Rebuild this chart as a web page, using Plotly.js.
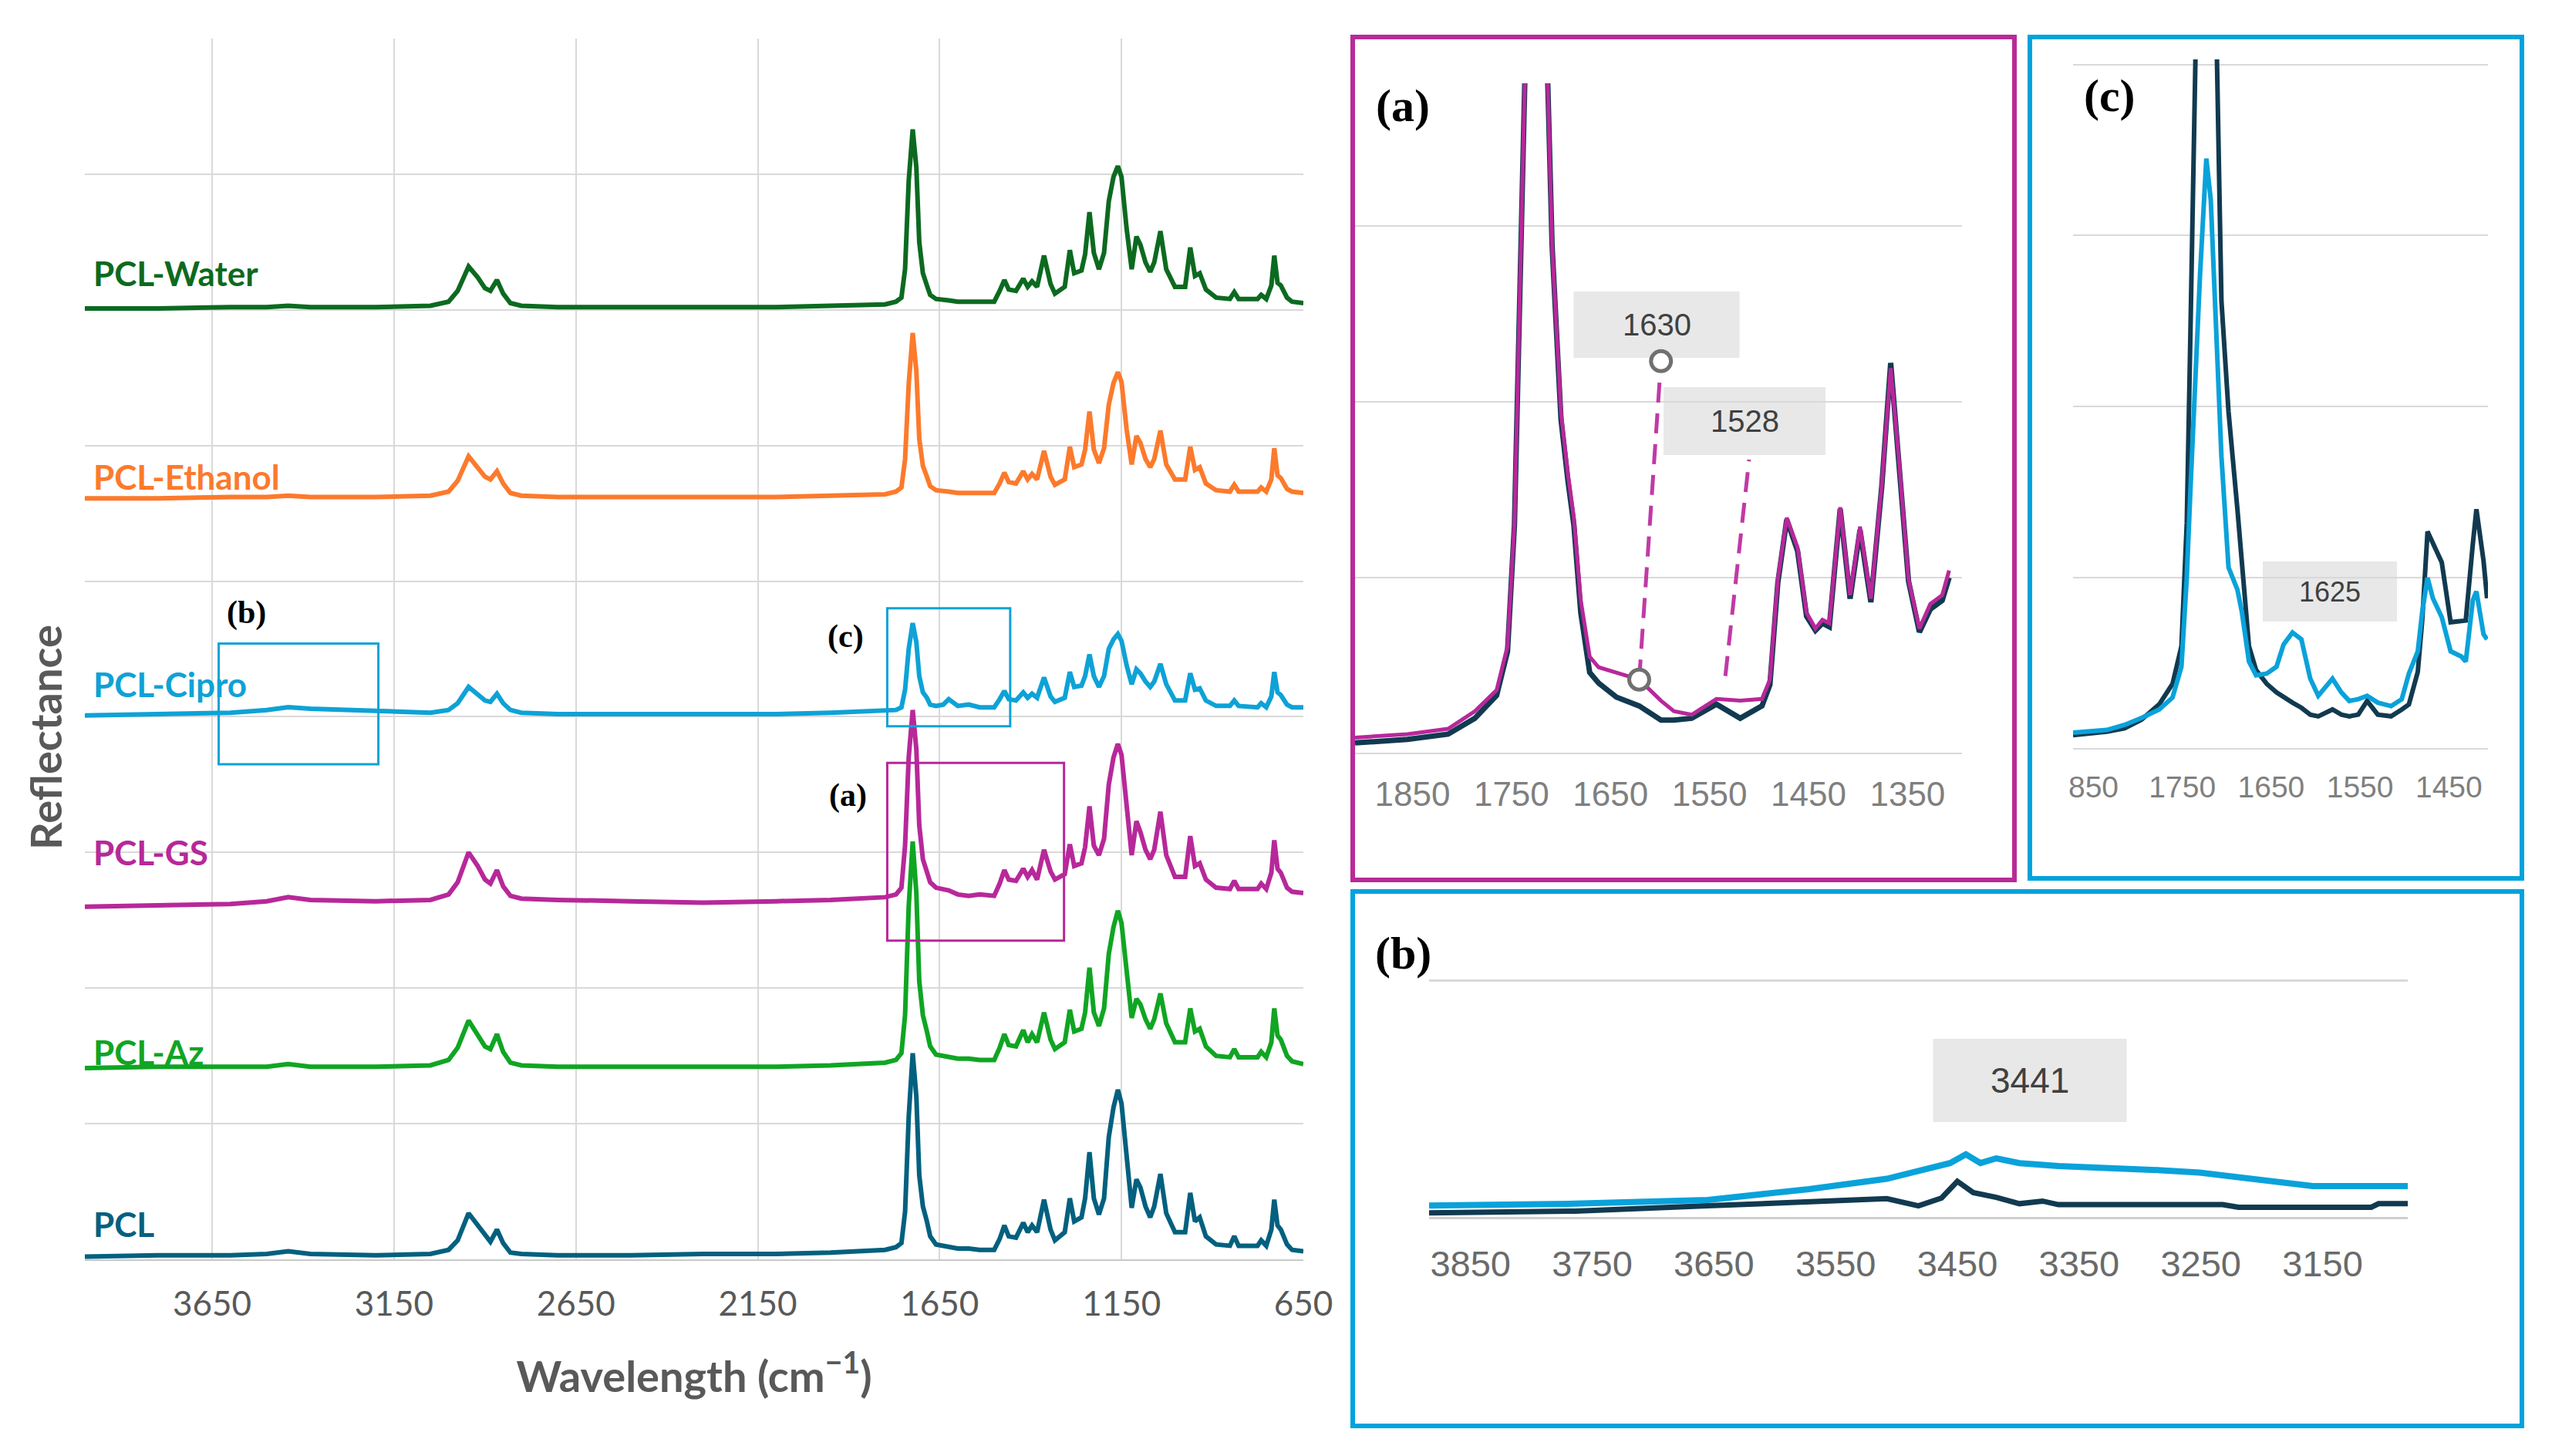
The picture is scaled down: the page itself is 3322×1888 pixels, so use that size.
<!DOCTYPE html>
<html><head><meta charset="utf-8">
<script src="https://cdn.plot.ly/plotly-3.0.1.min.js"></script>
<style>html,body{margin:0;padding:0;background:#fff}#chart{width:3322px;height:1888px}</style>
</head><body><div id="chart"></div>
<script>
// ---------- main chart data (wavenumber, stacked reflectance) ----------
const wavenumbers = [4000,3800,3600,3500,3441,3380,3200,3050,3000,2975,2945,2920,2900,2885,2867,2850,2830,2800,2700,2500,2300,2100,1950,1800,1770,1755,1745,1735,1724,1714,1706,1696,1685,1676,1660,1640,1625,1600,1570,1540,1500,1485,1472,1460,1440,1420,1408,1396,1382,1363,1345,1333,1306,1292,1280,1260,1250,1238,1226,1212,1198,1185,1172,1160,1150,1136,1122,1109,1098,1084,1071,1060,1043,1027,1003,975,961,948,935,918,890,852,840,828,776,766,752,738,730,721,712,695,681,650];
const pcl = [0.02,0.03,0.03,0.04,0.06,0.04,0.03,0.04,0.07,0.14,0.34,0.25,0.17,0.13,0.22,0.12,0.05,0.04,0.03,0.03,0.04,0.04,0.05,0.07,0.09,0.12,0.35,1.05,1.52,1.2,0.62,0.39,0.28,0.17,0.11,0.1,0.09,0.08,0.08,0.07,0.07,0.15,0.25,0.17,0.16,0.27,0.2,0.25,0.2,0.44,0.22,0.14,0.2,0.45,0.28,0.31,0.45,0.79,0.45,0.33,0.45,0.9,1.12,1.25,1.15,0.73,0.38,0.59,0.53,0.39,0.31,0.39,0.63,0.34,0.2,0.2,0.49,0.28,0.31,0.17,0.11,0.1,0.17,0.1,0.1,0.14,0.1,0.22,0.44,0.25,0.22,0.11,0.07,0.06];
const pclAz = [1.41,1.42,1.42,1.42,1.44,1.42,1.42,1.43,1.47,1.56,1.76,1.65,1.57,1.55,1.66,1.53,1.45,1.43,1.42,1.42,1.42,1.42,1.43,1.45,1.47,1.52,1.8,2.6,3.08,2.7,2.05,1.8,1.68,1.57,1.51,1.5,1.49,1.48,1.48,1.47,1.47,1.56,1.66,1.58,1.57,1.69,1.6,1.66,1.6,1.82,1.62,1.55,1.6,1.84,1.68,1.7,1.82,2.15,1.82,1.72,1.85,2.25,2.45,2.57,2.48,2.1,1.78,1.92,1.88,1.77,1.7,1.77,1.96,1.74,1.6,1.6,1.85,1.68,1.7,1.57,1.5,1.49,1.55,1.49,1.49,1.53,1.49,1.6,1.85,1.65,1.62,1.5,1.46,1.44];
const pclGS = [2.6,2.61,2.62,2.64,2.67,2.65,2.64,2.65,2.69,2.78,3.0,2.9,2.8,2.77,2.87,2.75,2.68,2.66,2.65,2.64,2.63,2.64,2.65,2.67,2.69,2.74,3.05,3.7,4.05,3.76,3.2,2.95,2.86,2.78,2.74,2.73,2.72,2.69,2.68,2.69,2.68,2.77,2.87,2.8,2.79,2.88,2.82,2.87,2.8,3.02,2.86,2.8,2.84,3.06,2.9,2.92,3.04,3.34,3.05,2.98,3.1,3.5,3.7,3.8,3.72,3.35,2.98,3.23,3.15,3.02,2.95,3.02,3.3,2.98,2.82,2.82,3.12,2.9,2.92,2.8,2.74,2.73,2.79,2.73,2.73,2.77,2.73,2.85,3.09,2.88,2.85,2.74,2.71,2.7];
const pclCipro = [4.01,4.02,4.03,4.05,4.07,4.06,4.04,4.03,4.05,4.1,4.22,4.17,4.12,4.11,4.17,4.1,4.05,4.03,4.02,4.02,4.02,4.02,4.03,4.04,4.05,4.07,4.2,4.5,4.69,4.55,4.3,4.18,4.14,4.09,4.08,4.09,4.13,4.08,4.09,4.07,4.07,4.13,4.19,4.13,4.12,4.18,4.14,4.17,4.14,4.29,4.15,4.11,4.14,4.33,4.22,4.23,4.3,4.46,4.3,4.22,4.3,4.5,4.57,4.61,4.56,4.38,4.24,4.35,4.32,4.26,4.22,4.26,4.39,4.24,4.12,4.12,4.32,4.2,4.21,4.12,4.08,4.08,4.12,4.08,4.07,4.1,4.07,4.15,4.33,4.18,4.16,4.09,4.07,4.07];
const pclEthanol = [5.61,5.61,5.62,5.62,5.63,5.62,5.62,5.63,5.66,5.74,5.92,5.84,5.77,5.75,5.81,5.72,5.65,5.63,5.62,5.62,5.62,5.62,5.63,5.64,5.66,5.69,5.9,6.45,6.83,6.55,6.05,5.85,5.77,5.7,5.67,5.66,5.66,5.65,5.65,5.65,5.65,5.72,5.8,5.73,5.72,5.81,5.75,5.79,5.75,5.96,5.77,5.71,5.75,5.99,5.84,5.86,5.97,6.25,5.97,5.87,5.98,6.3,6.46,6.54,6.47,6.12,5.86,6.07,6.02,5.9,5.84,5.9,6.11,5.86,5.75,5.75,5.99,5.82,5.84,5.72,5.67,5.66,5.71,5.66,5.66,5.69,5.66,5.75,5.98,5.78,5.76,5.68,5.66,5.65];
const pclWater = [7.01,7.01,7.02,7.02,7.03,7.02,7.02,7.03,7.06,7.14,7.32,7.24,7.16,7.14,7.22,7.12,7.05,7.03,7.02,7.02,7.02,7.02,7.03,7.04,7.06,7.09,7.3,7.95,8.33,8.05,7.5,7.27,7.18,7.11,7.08,7.07,7.07,7.06,7.06,7.06,7.06,7.14,7.22,7.15,7.14,7.23,7.17,7.21,7.17,7.4,7.19,7.12,7.17,7.44,7.27,7.29,7.41,7.72,7.42,7.3,7.42,7.8,7.98,8.06,7.98,7.6,7.3,7.54,7.48,7.35,7.28,7.35,7.58,7.3,7.17,7.17,7.46,7.25,7.27,7.15,7.09,7.08,7.13,7.08,7.08,7.11,7.08,7.18,7.4,7.2,7.18,7.09,7.06,7.05];
const seriesNames = ["PCL-Water","PCL-Ethanol","PCL-Cipro","PCL-GS","PCL-Az","PCL"];
const seriesLabelY = [7.27,5.77,4.24,3.0,1.53,0.26];
const xTicks = [3650,3150,2650,2150,1650,1150,650];

// ---------- inset (a): PCL-GS vs PCL, 1908-1308 ----------
const aWn = [1908,1855,1814,1787,1765,1754,1747,1740,1736,1730,1724,1719,1714,1709,1700,1693,1687,1680,1671,1662,1644,1621,1599,1586,1568,1543,1519,1497,1489,1481,1472,1461,1452,1443,1436,1429,1418,1408,1398,1387,1376,1367,1359,1349,1338,1327,1315,1308];
const aGS = [0.09,0.11,0.14,0.24,0.36,0.61,1.31,2.89,3.95,6.5,8.0,6.5,3.95,2.89,1.94,1.59,1.34,0.87,0.55,0.49,0.46,0.42,0.30,0.24,0.22,0.31,0.30,0.31,0.42,0.99,1.34,1.17,0.80,0.71,0.76,0.74,1.40,0.90,1.29,0.88,1.53,2.19,1.69,0.99,0.71,0.85,0.90,1.04];
const aPCL = [0.06,0.08,0.11,0.2,0.33,0.58,1.3,2.89,3.95,6.5,8.0,6.5,3.95,2.89,1.9,1.55,1.3,0.8,0.46,0.40,0.32,0.27,0.19,0.19,0.2,0.28,0.2,0.27,0.39,0.97,1.33,1.15,0.78,0.7,0.74,0.72,1.39,0.88,1.27,0.86,1.52,2.22,1.7,0.98,0.69,0.82,0.87,1.0];
const aTicks = [1850,1750,1650,1550,1450,1350];
const aCallout1630 = {wn:[1621,1599], v:[0.42,2.23]};
const aCallout1528 = {wn:[1534,1510], v:[0.44,1.67]};

// ---------- inset (c): PCL-Cipro vs PCL, 1873-1407 ----------
const cWn = [1873,1835,1815,1796,1776,1761,1751,1745,1741,1737,1730,1723,1718,1712,1706,1698,1688,1683,1675,1667,1655,1644,1636,1626,1616,1606,1597,1589,1581,1571,1562,1552,1542,1530,1515,1503,1495,1485,1480,1474,1468,1458,1448,1436,1431,1423,1419,1411,1407];
const cCipro = [0.095,0.11,0.14,0.18,0.23,0.30,0.48,1.0,1.5,1.97,2.78,3.45,3.21,2.46,1.71,1.06,0.93,0.8,0.51,0.43,0.44,0.48,0.61,0.68,0.64,0.41,0.31,0.36,0.41,0.33,0.28,0.29,0.31,0.27,0.25,0.29,0.44,0.57,0.8,1.0,0.88,0.77,0.57,0.54,0.51,0.87,0.92,0.67,0.64];
const cPCL = [0.08,0.1,0.12,0.17,0.26,0.38,0.6,1.32,2.4,3.4,6.0,7.5,6.5,4.3,2.62,1.97,1.4,1.1,0.6,0.46,0.38,0.33,0.30,0.27,0.24,0.2,0.19,0.21,0.23,0.2,0.19,0.2,0.28,0.2,0.19,0.23,0.26,0.45,0.75,1.27,1.2,1.09,0.74,0.75,0.75,1.2,1.4,1.1,0.88];
const cTicks = [1850,1750,1650,1550,1450];
const cTickText = ["850","1750","1650","1550","1450"];

// ---------- inset (b): PCL-Cipro vs PCL, 3884-3080 ----------
const bWnCipro = [3884,3764,3655,3623,3572,3508,3476,3456,3443,3431,3418,3399,3367,3315,3283,3251,3219,3187,3158,3080];
const bCipro = [0.051,0.059,0.075,0.09,0.12,0.164,0.207,0.23,0.267,0.23,0.25,0.23,0.218,0.21,0.20,0.19,0.17,0.153,0.133,0.133];
const bWnPCL = [3884,3764,3655,3572,3508,3482,3463,3450,3437,3418,3399,3380,3367,3232,3219,3110,3104,3080];
const bPCL = [0.02,0.028,0.05,0.067,0.08,0.05,0.083,0.153,0.106,0.086,0.059,0.07,0.055,0.055,0.044,0.044,0.059,0.059];
const bTicks = [3850,3750,3650,3550,3450,3350,3250,3150];

// ---------- styling ----------
const W = 3322, H = 1888;
const px = x => x / W, py = y => 1 - y / H;
const colors = {"PCL-Water":"#0c6a20","PCL-Ethanol":"#fc7a2c","PCL-Cipro":"#0ea2d6","PCL-GS":"#b7289a","PCL-Az":"#10a523","PCL":"#03607f"};
const navy = "#113a50", magenta = "#b7289a", cyan = "#0aa2da";
const seriesData = {"PCL-Water":pclWater,"PCL-Ethanol":pclEthanol,"PCL-Cipro":pclCipro,"PCL-GS":pclGS,"PCL-Az":pclAz,"PCL":pcl};

const traces = [];
seriesNames.forEach(n => traces.push({x:wavenumbers, y:seriesData[n], type:'scatter', mode:'lines', name:n,
  line:{color:colors[n], width:6}, xaxis:'x', yaxis:'y', hoverinfo:'skip'}));
// inset a
traces.push({x:aWn, y:aPCL, mode:'lines', line:{color:navy, width:7}, xaxis:'x2', yaxis:'y2', name:'PCL'});
traces.push({x:aWn, y:aGS, mode:'lines', line:{color:magenta, width:5}, xaxis:'x2', yaxis:'y2', name:'PCL-GS'});
[aCallout1630, aCallout1528].forEach(c => traces.push({x:c.wn, y:c.v, mode:'lines', line:{color:'#c03aa6', width:5, dash:'26px,14px'}, xaxis:'x2', yaxis:'y2'}));
traces.push({x:[aCallout1630.wn[0], aCallout1630.wn[1]], y:[aCallout1630.v[0], aCallout1630.v[1]], mode:'markers',
  marker:{symbol:'circle', size:26, color:'#ffffff', line:{width:5, color:'#707070'}}, xaxis:'x2', yaxis:'y2'});
// inset c
traces.push({x:cWn, y:cPCL, mode:'lines', line:{color:navy, width:6}, xaxis:'x3', yaxis:'y3', name:'PCL'});
traces.push({x:cWn, y:cCipro, mode:'lines', line:{color:cyan, width:6}, xaxis:'x3', yaxis:'y3', name:'PCL-Cipro'});
// inset b
traces.push({x:bWnCipro, y:bCipro, mode:'lines', line:{color:cyan, width:8}, xaxis:'x4', yaxis:'y4', name:'PCL-Cipro'});
traces.push({x:bWnPCL, y:bPCL, mode:'lines', line:{color:navy, width:7}, xaxis:'x4', yaxis:'y4', name:'PCL'});

const grid = '#d9d9d9';
const mainFont = 'Lato, "Open Sans", sans-serif';
const insetFont = '"Liberation Sans", Arial, sans-serif';
const serif = '"Liberation Serif", "Times New Roman", serif';

const annotations = [];
seriesNames.forEach((n,i) => annotations.push({xref:'x', yref:'y', x:3981, y:seriesLabelY[i], text:'<b>'+n+'</b>',
  showarrow:false, xanchor:'left', yanchor:'middle', font:{family:mainFont, size:44, color:colors[n]}}));
annotations.push({xref:'paper', yref:'paper', x:px(58), y:py(956), text:'<b>Reflectance</b>', textangle:-90, showarrow:false,
  xanchor:'center', yanchor:'middle', font:{family:mainFont, size:56, color:'#595959'}});
const mainLabels = [{t:'(b)', x:3556, y:4.77},{t:'(c)', x:1908, y:4.59},{t:'(a)', x:1902, y:3.42}];
mainLabels.forEach(l => annotations.push({xref:'x', yref:'y', x:l.x, y:l.y, text:'<b>'+l.t+'</b>', showarrow:false,
  xanchor:'center', yanchor:'middle', font:{family:serif, size:42, color:'#000'}}));
[{t:'(a)', x:1819, y:137},{t:'(c)', x:2735, y:124},{t:'(b)', x:1819, y:1236}].forEach(l => annotations.push({
  xref:'paper', yref:'paper', x:px(l.x), y:py(l.y), text:'<b>'+l.t+'</b>', showarrow:false, xanchor:'center', yanchor:'middle',
  font:{family:serif, size:60, color:'#000'}}));
const callouts = [{t:'1630', x:2148, y:421, w:215, h:86, s:40},{t:'1528', x:2262, y:546, w:210, h:88, s:40},
 {t:'1625', x:3021, y:767, w:174, h:78, s:36},{t:'3441', x:2632, y:1401, w:251, h:108, s:46}];
callouts.forEach(l => annotations.push({
  xref:'paper', yref:'paper', x:px(l.x), y:py(l.y), text:l.t, showarrow:false, xanchor:'center', yanchor:'middle',
  font:{family:insetFont, size:l.s, color:'#404040'}}));

const shapes = [
  {type:'rect', xref:'x', yref:'y', x0:3632, x1:3193, y0:3.65, y1:4.54, line:{color:'#0ea2d6', width:3}},
  {type:'rect', xref:'x', yref:'y', x0:1794, x1:1456, y0:3.93, y1:4.80, line:{color:'#0ea2d6', width:3}},
  {type:'rect', xref:'x', yref:'y', x0:1794, x1:1308, y0:2.35, y1:3.66, line:{color:magenta, width:3}},
  {type:'rect', xref:'paper', yref:'paper', x0:px(1754), x1:px(2612), y0:py(48), y1:py(1141), line:{color:'#b92a98', width:6}},
  {type:'rect', xref:'paper', yref:'paper', x0:px(2632), x1:px(3270), y0:py(48), y1:py(1139), line:{color:'#00a3dc', width:6}},
  {type:'rect', xref:'paper', yref:'paper', x0:px(1754), x1:px(3270), y0:py(1156), y1:py(1849), line:{color:'#00a3dc', width:6}}
];
callouts.forEach(l => shapes.push({type:'rect', xref:'paper', yref:'paper', layer:'below',
  x0:px(l.x - l.w/2), x1:px(l.x + l.w/2), y0:py(l.y + l.h/2), y1:py(l.y - l.h/2), fillcolor:'#e8e8e8', line:{width:0}}));

const layout = {
  width:W, height:H, margin:{l:0,r:0,t:0,b:0}, paper_bgcolor:'#fff', plot_bgcolor:'rgba(0,0,0,0)',
  showlegend:false, hovermode:false,
  xaxis:{domain:[px(110), px(1690)], range:[4000,650], tickvals:xTicks, ticks:'', showgrid:true, gridcolor:grid, gridwidth:2,
    showline:true, linecolor:'#c8c8c8', linewidth:2, zeroline:false, ticklabelstandoff:18,
    tickfont:{family:mainFont, size:44, color:'#595959'},
    title:{text:'Wavelength (cm<sup>−1</sup>)', standoff:52, font:{family:mainFont, size:56, color:'#595959', weight:700}}},
  yaxis:{domain:[py(1633), py(50)], range:[0,9], dtick:1, tick0:0, showticklabels:false, ticks:'', showgrid:true, gridcolor:grid,
    gridwidth:2, zeroline:false, showline:false},
  xaxis2:{domain:[px(1757), px(2544)], range:[1908,1295], anchor:'y2', tickvals:aTicks, ticks:'', showgrid:false, zeroline:false,
    showline:false, ticklabelstandoff:23, tickfont:{family:insetFont, size:44, color:'#7f7f7f'}},
  yaxis2:{domain:[py(977), py(108)], range:[0,3.81], anchor:'x2', dtick:1, tick0:0, showticklabels:false, ticks:'', showgrid:true,
    gridcolor:grid, gridwidth:2, zeroline:true, zerolinecolor:grid, zerolinewidth:2},
  xaxis3:{domain:[px(2688), px(3226)], range:[1873,1406], anchor:'y3', tickvals:cTicks, ticktext:cTickText, ticks:'', showgrid:false,
    zeroline:false, showline:false, ticklabelstandoff:23, tickfont:{family:insetFont, size:39, color:'#7f7f7f'}},
  yaxis3:{domain:[py(971), py(77)], range:[0,4.03], anchor:'x3', dtick:1, tick0:0, showticklabels:false, ticks:'', showgrid:true,
    gridcolor:grid, gridwidth:2, zeroline:true, zerolinecolor:grid, zerolinewidth:2},
  xaxis4:{domain:[px(1853), px(3122)], range:[3884,3080], anchor:'y4', tickvals:bTicks, ticks:'', showgrid:false, zeroline:false,
    showline:false, ticklabelstandoff:28, tickfont:{family:insetFont, size:47, color:'#6a6a6a'}},
  yaxis4:{domain:[py(1579), py(1265)], range:[0,1.02], anchor:'x4', dtick:1, tick0:0, showticklabels:false, ticks:'', showgrid:true,
    gridcolor:grid, gridwidth:3, zeroline:true, zerolinecolor:'#cfcfcf', zerolinewidth:3},
  annotations:annotations, shapes:shapes
};
Plotly.newPlot('chart', traces, layout, {staticPlot:true, displayModeBar:false});
</script></body></html>
